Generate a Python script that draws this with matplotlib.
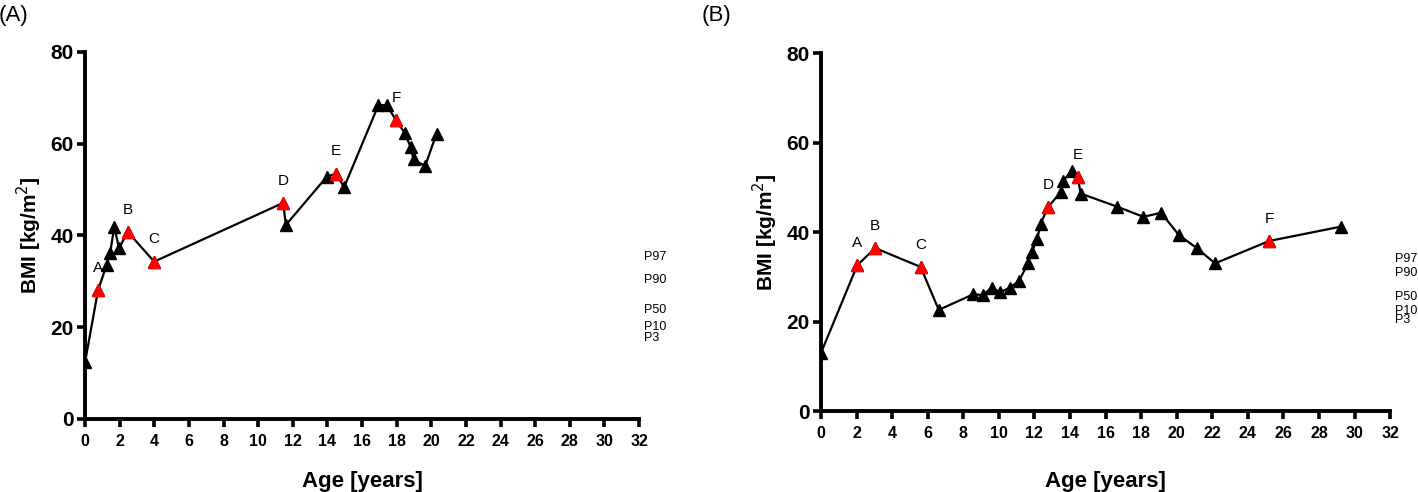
import matplotlib
matplotlib.use("Agg")
import matplotlib.pyplot as plt
from matplotlib import font_manager

# panel A: age (years) and BMI (kg/m2)
a_age = [0, 0.75, 1.25, 1.44, 1.69, 1.96, 2.46, 3.99, 11.44, 11.6, 13.96, 14.5,
         14.96, 16.94, 17.42, 17.97, 18.45, 18.8, 18.97, 19.64, 20.3]
a_bmi = [12.4, 28.1, 33.6, 36.1, 41.9, 37.2, 40.8, 34.3, 47.1, 42.3, 52.8, 53.5,
         50.5, 68.4, 68.4, 65.1, 62.4, 59.3, 56.6, 55.1, 62.2]
a_events = [1, 6, 7, 8, 11, 15]

# panel B
b_age = [0, 2.04, 3.05, 5.6, 6.62, 8.57, 9.1, 9.6, 10.07, 10.63, 11.14, 11.63,
         11.87, 12.15, 12.36, 12.75, 13.5, 13.63, 14.1, 14.44, 14.6, 16.63, 18.13,
         19.12, 20.13, 21.13, 22.16, 25.2, 29.23]
b_bmi = [13.0, 32.6, 36.4, 32.2, 22.6, 26.1, 25.9, 27.6, 26.5, 27.6, 29.1, 33.0,
         35.6, 38.4, 41.9, 45.5, 49.0, 51.5, 53.7, 52.2, 48.6, 45.7, 43.4,
         44.3, 39.3, 36.4, 33.0, 38.0, 41.2]
b_events = [1, 2, 3, 15, 19, 27]

event_labels = ["A", "B", "C", "D", "E", "F"]

pct_labels = ["P97", "P90", "P50", "P10", "P3"]
a_pct = [35.4, 30.3, 23.7, 20.1, 17.6]
b_pct = [33.9, 30.8, 25.5, 22.4, 20.3]

x_ticks = list(range(0, 33, 2))
y_ticks = [0, 20, 40, 60, 80]

installed = {f.name for f in font_manager.fontManager.ttflist}
NARROW = "Liberation Sans Narrow" if "Liberation Sans Narrow" in installed else "Liberation Sans"
plt.rcParams["font.family"] = ["Liberation Sans", "DejaVu Sans"]


def draw(ax, age, bmi, events, pct, tag, tag_x, xlab_y, ylab_x):
    ax.plot(age, bmi, color="black", lw=1.6, marker="^", ms=9,
            mfc="black", mec="black", zorder=3)
    ax.plot([age[i] for i in events], [bmi[i] for i in events], ls="none",
            marker="^", ms=9, mfc="red", mec="red", zorder=4)
    for lab, i in zip(event_labels, events):
        ax.annotate(lab, (age[i], bmi[i]), xytext=(0, 16), textcoords="offset points",
                    ha="center", va="center", fontsize=11)
    for lab, v in zip(pct_labels, pct):
        ax.text(32.3, v, lab, fontsize=9, family=NARROW, va="center",
                ha="left", clip_on=False)

    ax.set_xlim(0, 32)
    ax.set_ylim(0, 80)
    ax.set_xticks(x_ticks)
    ax.set_yticks(y_ticks)
    for side in ("top", "right"):
        ax.spines[side].set_visible(False)
    for side in ("left", "bottom"):
        ax.spines[side].set_linewidth(2.8)
    ax.tick_params(axis="both", width=2.6, length=6, direction="out")
    ax.tick_params(axis="y", labelsize=15, pad=2)
    ax.tick_params(axis="x", labelsize=11.5, pad=5)
    for t in ax.get_xticklabels() + ax.get_yticklabels():
        t.set_family(NARROW)
        t.set_fontweight("bold")
    ax.set_xlabel("Age [years]", fontsize=16, fontweight="bold", family=NARROW,
                  va="center")
    ax.xaxis.set_label_coords(0.5, xlab_y)
    ax.set_ylabel("BMI [kg/m$^2$]", fontsize=15, fontweight="bold", va="center")
    ax.yaxis.set_label_coords(ylab_x, 0.5)
    ax.figure.text(tag_x, 0.968, tag, fontsize=16, ha="left", va="center")


fig = plt.figure(figsize=(14.18, 4.92), dpi=100)
ax_a = fig.add_axes([0.060, 0.1484, 0.3907, 0.746])
ax_b = fig.add_axes([0.579, 0.1646, 0.4013, 0.7276])

draw(ax_a, a_age, a_bmi, a_events, a_pct, "(A)", -0.001, -0.169, -0.101)
draw(ax_b, b_age, b_bmi, b_events, b_pct, "(B)", 0.495, -0.196, -0.098)

fig.savefig("out.png", dpi=100)
